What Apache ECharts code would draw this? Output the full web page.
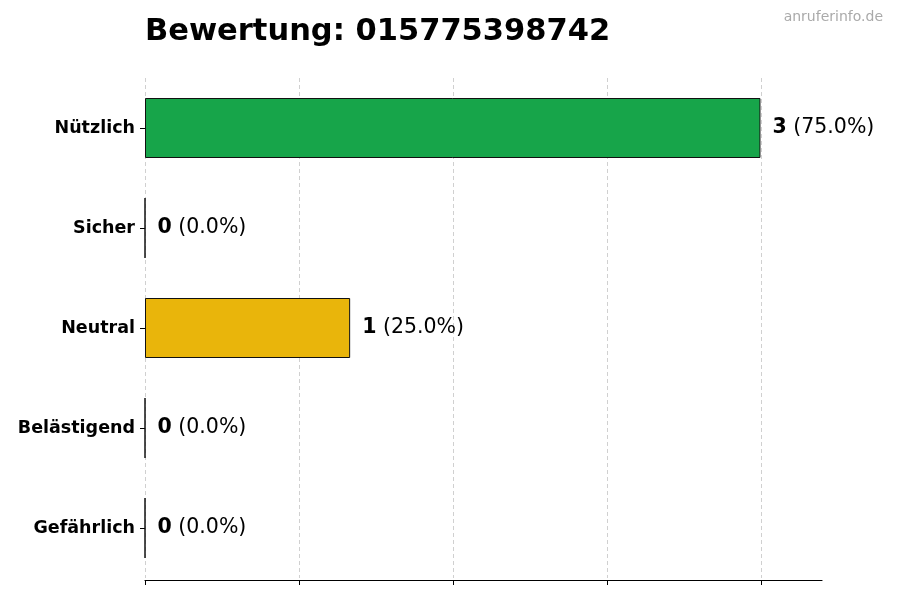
<!DOCTYPE html>
<html>
<head>
<meta charset="utf-8">
<script src="https://cdn.jsdelivr.net/npm/echarts@6/dist/echarts.min.js"></script>
<style>
  html, body { margin: 0; padding: 0; background: #fff; }
  #chart { width: 900px; height: 600px; }
</style>
</head>
<body>
<div id="chart"></div>
<script>
// Kategorien von unten nach oben (Kategorieachse beginnt unten)
const categories = ['Gefährlich', 'Belästigend', 'Neutral', 'Sicher', 'Nützlich'];
const counts = [0, 0, 1, 0, 3];
const percents = [0.0, 0.0, 25.0, 0.0, 75.0];
const barColors = ['#d62728', '#e67e22', '#e9b50b', '#3b82c4', '#17a54a'];
const phoneNumber = '015775398742';

let chart = echarts.init(document.getElementById('chart'));

let option = {
  animation: false,
  title: [{
    text: 'Bewertung: ' + phoneNumber,
    left: 145,
    top: 17,
    padding: 0,
    textStyle: {
      fontFamily: 'DejaVu Sans',
      fontSize: 30.5,
      fontWeight: 'bold',
      color: '#000'
    }
  }, {
    text: 'anruferinfo.de',
    right: 17,
    top: 10,
    padding: 0,
    textStyle: {
      fontFamily: 'DejaVu Sans',
      fontSize: 14,
      fontWeight: 'normal',
      color: '#aaaaaa'
    }
  }],
  // grid 0: Balken, Achse bis 3.3; grid 1: Gitterlinien/Ticks nur bis 3
  grid: [
    { left: 145, right: 78, top: 78, bottom: 22 },
    { left: 145, right: 139, top: 78, bottom: 22 }
  ],
  xAxis: [{
    type: 'value',
    gridIndex: 0,
    min: 0,
    max: 3.3,
    offset: 2,
    axisLine: { show: true, lineStyle: { color: '#000', width: 1.2 } },
    axisTick: { show: false },
    axisLabel: { show: false },
    splitLine: { show: false }
  }, {
    type: 'value',
    gridIndex: 1,
    min: 0,
    max: 3,
    interval: 0.75,
    offset: 2,
    axisLine: { show: false },
    axisTick: { show: true, length: 5, lineStyle: { color: '#000' } },
    axisLabel: { show: false },
    splitLine: {
      show: true,
      lineStyle: { color: '#d0d0d0', type: [4, 3], width: 1 }
    }
  }],
  yAxis: [{
    type: 'category',
    gridIndex: 0,
    data: categories,
    axisLine: { show: false },
    axisTick: { show: true, alignWithLabel: true, length: 5, lineStyle: { color: '#000' } },
    axisLabel: {
      margin: 10,
      fontFamily: 'DejaVu Sans',
      fontSize: 17.5,
      fontWeight: 'bold',
      color: '#000'
    }
  }, {
    type: 'category',
    gridIndex: 1,
    data: categories,
    show: false
  }],
  series: [{
    type: 'bar',
    xAxisIndex: 0,
    yAxisIndex: 0,
    z: 3,
    barWidth: 60,
    data: counts.map((v, i) => ({
      value: v,
      itemStyle: { color: barColors[i] }
    })),
    itemStyle: {
      borderColor: '#111',
      borderWidth: 1
    },
    label: {
      show: true,
      position: 'right',
      distance: 12,
      fontFamily: 'DejaVu Sans',
      formatter: p => '{b|' + counts[p.dataIndex] + '}{n| (' + percents[p.dataIndex].toFixed(1) + '%)}',
      rich: {
        b: { fontFamily: 'DejaVu Sans', fontSize: 20.5, fontWeight: 'bold', color: '#000' },
        n: { fontFamily: 'DejaVu Sans', fontSize: 20.5, color: '#000' }
      }
    }
  }, {
    type: 'bar',
    xAxisIndex: 1,
    yAxisIndex: 1,
    data: [],
    silent: true
  }]
};

chart.setOption(option);
window.addEventListener('resize', function () {
  chart.resize();
});
</script>
</body>
</html>
